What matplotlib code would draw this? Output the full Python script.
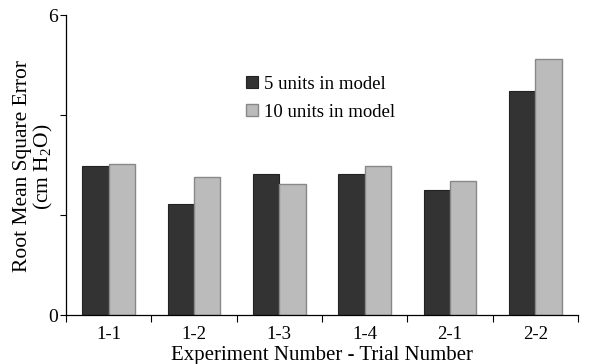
import numpy as np
import matplotlib.pyplot as plt

plt.rcParams['font.family'] = ['Liberation Serif', 'DejaVu Serif']
plt.rcParams['mathtext.fontset'] = 'custom'
plt.rcParams['mathtext.rm'] = 'Liberation Serif'

trials = ["1-1", "1-2", "1-3", "1-4", "2-1", "2-2"]
rmse_5 = [2.98, 2.23, 2.82, 2.82, 2.51, 4.49]
rmse_10 = [3.02, 2.77, 2.62, 2.99, 2.68, 5.11]

x = np.arange(len(trials))
w = 0.31

fig = plt.figure(figsize=(6.03, 3.64), dpi=100)
ax = fig.add_axes([66 / 603, 49 / 364, 512 / 603, 300 / 364])

ax.bar(x - w / 2, rmse_5, w, color='#333333', edgecolor='#222222', linewidth=0.8,
       label='5 units in model')
ax.bar(x + w / 2, rmse_10, w, color='#bbbbbb', edgecolor='#888888', linewidth=1.0,
       label='10 units in model')

ax.set_xlim(-0.5, len(trials) - 0.5)
ax.set_ylim(0, 6)

# category labels centred, tick marks on the boundaries
ax.set_xticks(x)
ax.set_xticklabels(trials, fontsize=13.5)
ax.tick_params(axis='x', which='major', length=0, pad=8)
ax.set_xticks(np.arange(-0.5, len(trials)), minor=True)
ax.tick_params(axis='x', which='minor', length=5, direction='out', width=0.8)

ax.set_yticks([0, 2, 4, 6])
ax.set_yticklabels(['0', '', '', '6'], fontsize=14)
ax.tick_params(axis='y', length=4, width=0.8, direction='out', pad=2)

for s in ['top', 'right']:
    ax.spines[s].set_visible(False)
for s in ['left', 'bottom']:
    ax.spines[s].set_linewidth(0.9)

ax.set_xlabel("Experiment Number - Trial Number", fontsize=15, labelpad=2)
ax.set_ylabel("Root Mean Square Error\n(cm H$_2$O)", fontsize=15.5, linespacing=1.0)
ax.yaxis.set_label_coords(-0.022, 0.495)

ax.legend(loc='upper left', bbox_to_anchor=(0.337, 0.823), frameon=False,
          fontsize=13.5, handlelength=0.65, handleheight=0.65, handletextpad=0.3,
          labelspacing=0.59, borderaxespad=0)

fig.savefig("out.png", dpi=100)
